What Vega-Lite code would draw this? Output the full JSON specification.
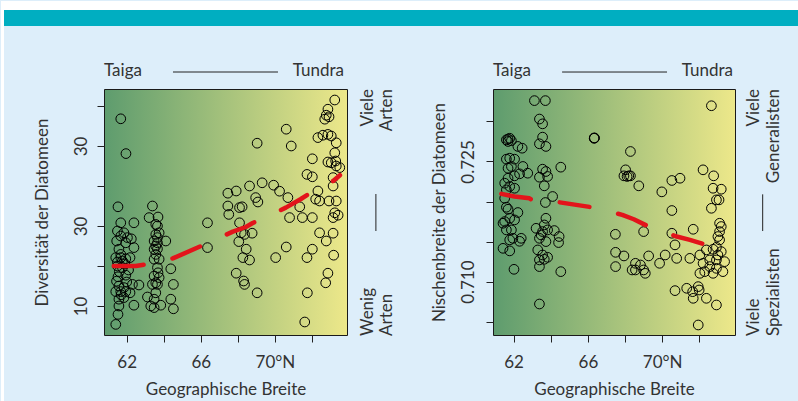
{
  "$schema": "https://vega.github.io/schema/vega-lite/v6.json",
  "padding": 0,
  "autosize": {"type": "pad"},
  "background": "#ddeefa",
  "bounds": "flush",
  "spacing": 146,
  "config": {
    "font": "Lato",
    "view": {"stroke": "#1a1a1a", "strokeWidth": 1, "fill": {"gradient": "linear", "x1": 0, "y1": 0, "x2": 1, "y2": 0, "stops": [{"offset": 0, "color": "#5e9c6e"}, {"offset": 1, "color": "#ede88a"}]}},
    "axis": {"domain": false, "grid": false, "tickColor": "#222", "tickSize": 7, "tickWidth": 1, "labelFont": "Lato", "labelFontSize": 17, "labelColor": "#333", "titleFont": "Lato", "titleFontSize": 17, "titleFontWeight": "normal", "titleColor": "#333", "labelFlush": false, "labelOverlap": false},
    "text": {"font": "Lato", "fontSize": 17, "color": "#333"}
  },
  "datasets": {
    "div": [
      {"lat":61.68,"val":56.8},{"lat":61.96,"val":48.1},{"lat":61.53,"val":34.8},{"lat":61.68,"val":30.8},{"lat":62.39,"val":30.8},{"lat":61.50,"val":28.75},{"lat":61.85,"val":28.3},{"lat":61.46,"val":26.25},{"lat":62.25,"val":26.8},{"lat":61.95,"val":25.8},{"lat":62.39,"val":24.6},{"lat":61.58,"val":24.2},{"lat":61.41,"val":22.1},{"lat":61.68,"val":22.1},{"lat":61.95,"val":21.8},{"lat":62.18,"val":22.1},{"lat":61.68,"val":22.9},{"lat":61.50,"val":20.0},{"lat":61.77,"val":19.6},{"lat":61.53,"val":17.3},{"lat":61.95,"val":17.7},{"lat":62.31,"val":15.4},{"lat":62.66,"val":15.25},{"lat":61.41,"val":13.6},{"lat":61.68,"val":13.6},{"lat":61.95,"val":13.6},{"lat":62.18,"val":13.3},{"lat":61.58,"val":11.7},{"lat":61.85,"val":12.1},{"lat":62.39,"val":10.2},{"lat":61.58,"val":10.0},{"lat":61.53,"val":7.9},{"lat":61.41,"val":5.4},{"lat":61.77,"val":21.25},{"lat":61.58,"val":15.0},{"lat":61.85,"val":14.6},{"lat":61.68,"val":27.5},{"lat":62.04,"val":27.1},{"lat":61.5,"val":21.0},{"lat":61.9,"val":20.5},{"lat":61.6,"val":18.6},{"lat":62.1,"val":19.0},{"lat":61.45,"val":16.2},{"lat":62.0,"val":16.0},{"lat":61.7,"val":12.8},
      {"lat":63.39,"val":35.0},{"lat":63.21,"val":32.1},{"lat":63.69,"val":32.25},{"lat":63.57,"val":30.4},{"lat":63.66,"val":30.0},{"lat":63.57,"val":27.9},{"lat":63.75,"val":28.3},{"lat":63.48,"val":26.25},{"lat":64.11,"val":26.25},{"lat":63.66,"val":25.8},{"lat":63.48,"val":24.2},{"lat":63.66,"val":24.3},{"lat":63.57,"val":22.9},{"lat":63.48,"val":21.7},{"lat":63.75,"val":21.7},{"lat":63.66,"val":19.6},{"lat":64.38,"val":19.3},{"lat":63.48,"val":17.5},{"lat":63.75,"val":17.1},{"lat":63.39,"val":15.4},{"lat":63.66,"val":15.4},{"lat":64.52,"val":15.4},{"lat":63.57,"val":13.3},{"lat":63.12,"val":12.25},{"lat":63.48,"val":11.7},{"lat":64.38,"val":11.7},{"lat":63.30,"val":10.0},{"lat":63.48,"val":9.6},{"lat":63.84,"val":10.2},{"lat":64.52,"val":9.3},{"lat":63.57,"val":25.0},{"lat":63.69,"val":18.3},{"lat":63.57,"val":15.8},{"lat":63.66,"val":27.1},
      {"lat":66.36,"val":30.8},{"lat":66.36,"val":24.6},
      {"lat":73.23,"val":61.5},{"lat":72.86,"val":59.2},{"lat":72.77,"val":57.7},{"lat":72.92,"val":57.3},{"lat":72.69,"val":56.7},{"lat":70.61,"val":54.2},{"lat":69.04,"val":50.7},{"lat":70.88,"val":50.0},{"lat":72.32,"val":52.1},{"lat":72.59,"val":52.7},{"lat":72.86,"val":52.9},{"lat":73.04,"val":52.5},{"lat":73.31,"val":50.8},{"lat":73.23,"val":48.3},{"lat":73.28,"val":46.25},{"lat":72.86,"val":46.0},{"lat":73.04,"val":45.8},{"lat":73.31,"val":45.0},{"lat":73.50,"val":44.6},{"lat":72.02,"val":46.8},{"lat":71.73,"val":42.9},{"lat":72.02,"val":42.3},{"lat":73.14,"val":42.1},
      {"lat":67.46,"val":38.2},{"lat":67.91,"val":38.75},{"lat":68.63,"val":40.0},{"lat":69.31,"val":40.8},{"lat":69.93,"val":40.2},{"lat":70.25,"val":38.7},{"lat":68.96,"val":37.1},{"lat":69.08,"val":36.0},{"lat":67.46,"val":35.0},{"lat":68.09,"val":34.6},{"lat":68.23,"val":34.8},{"lat":67.51,"val":32.9},{"lat":70.70,"val":37.1},{"lat":71.34,"val":34.8},{"lat":70.79,"val":32.1},{"lat":71.48,"val":32.1},{"lat":72.02,"val":32.1},{"lat":72.32,"val":38.75},{"lat":72.20,"val":36.7},{"lat":72.41,"val":36.25},{"lat":72.92,"val":36.25},{"lat":73.31,"val":36.25},{"lat":73.23,"val":33.3},{"lat":73.41,"val":32.7},{"lat":73.14,"val":32.1},{"lat":73.14,"val":40.0},
      {"lat":68.09,"val":30.8},{"lat":68.18,"val":28.3},{"lat":68.36,"val":27.9},{"lat":68.77,"val":28.2},{"lat":68.05,"val":26.1},{"lat":68.45,"val":24.2},{"lat":68.27,"val":22.1},{"lat":68.63,"val":21.5},{"lat":70.61,"val":24.75},{"lat":70.04,"val":22.1},{"lat":72.02,"val":24.2},{"lat":71.73,"val":22.1},{"lat":72.41,"val":28.3},{"lat":72.77,"val":26.25},{"lat":73.14,"val":28.2},{"lat":73.17,"val":22.7},{"lat":67.91,"val":18.2},{"lat":68.31,"val":16.25},{"lat":68.36,"val":15.4},{"lat":69.04,"val":13.3},{"lat":72.86,"val":18.2},{"lat":72.74,"val":15.8},{"lat":71.75,"val":13.3},{"lat":71.61,"val":6.0}
    ],
    "divTrend": [
      {"lat":61.30,"val":20.0},{"lat":62.49,"val":20.0},{"lat":63.03,"val":20.4},{"lat":63.24,"val":20.6},{"lat":64.49,"val":21.9},{"lat":66.32,"val":25.6},{"lat":67.73,"val":28.6},{"lat":68.43,"val":29.75},{"lat":68.8,"val":30.75},{"lat":69.19,"val":31.5},{"lat":70.59,"val":34.6},{"lat":71.4,"val":36.75},{"lat":71.9,"val":38.25},{"lat":73.14,"val":41.25},{"lat":73.51,"val":42.7}
    ],
    "nis": [
      {"lat":63.12,"val":0.7326},{"lat":63.71,"val":0.7326},{"lat":63.39,"val":0.7303},{"lat":63.56,"val":0.7297},
      {"lat":61.70,"val":0.7278},{"lat":61.61,"val":0.7277},{"lat":61.79,"val":0.7279},{"lat":61.88,"val":0.7276},{"lat":61.70,"val":0.7275},
      {"lat":62.46,"val":0.72666},{"lat":62.23,"val":0.72688},{"lat":63.56,"val":0.72804},{"lat":63.39,"val":0.72721},{"lat":63.74,"val":0.72688},
      {"lat":66.34,"val":0.72791},{"lat":66.34,"val":0.72791},{"lat":66.35,"val":0.72795},
      {"lat":61.79,"val":0.72541},{"lat":62.05,"val":0.72529},{"lat":61.61,"val":0.72529},{"lat":61.88,"val":0.72438},{"lat":61.70,"val":0.72416},{"lat":62.50,"val":0.72438},{"lat":62.32,"val":0.72346},{"lat":62.76,"val":0.72354},{"lat":62.05,"val":0.72321},{"lat":61.70,"val":0.72291},{"lat":61.52,"val":0.72229},{"lat":61.79,"val":0.72188},{"lat":61.61,"val":0.72146},{"lat":62.05,"val":0.72166},
      {"lat":64.54,"val":0.72429},{"lat":63.56,"val":0.72404},{"lat":63.74,"val":0.72375},{"lat":63.39,"val":0.72304},{"lat":63.83,"val":0.72313},{"lat":63.65,"val":0.72196},{"lat":64.10,"val":0.72063},{"lat":63.71,"val":0.71988},
      {"lat":61.52,"val":0.72041},{"lat":61.61,"val":0.71929},{"lat":61.70,"val":0.71904},{"lat":62.23,"val":0.71863},{"lat":61.52,"val":0.7175},{"lat":61.79,"val":0.71791},{"lat":62.05,"val":0.71771},{"lat":61.43,"val":0.71729},{"lat":61.61,"val":0.71646},{"lat":61.88,"val":0.71646},{"lat":61.96,"val":0.71541},{"lat":61.79,"val":0.71521},{"lat":62.41,"val":0.71541},{"lat":62.32,"val":0.71504},{"lat":61.43,"val":0.71416},{"lat":61.79,"val":0.71384},
      {"lat":63.74,"val":0.71791},{"lat":63.65,"val":0.71708},{"lat":63.21,"val":0.71666},{"lat":63.56,"val":0.71625},{"lat":63.83,"val":0.71646},{"lat":64.19,"val":0.71638},{"lat":64.45,"val":0.71563},{"lat":64.42,"val":0.71488},{"lat":63.39,"val":0.71541},{"lat":63.30,"val":0.71396},{"lat":63.56,"val":0.71333},{"lat":63.83,"val":0.71304},{"lat":63.39,"val":0.71271},{"lat":63.65,"val":0.71279},{"lat":63.39,"val":0.71188},{"lat":64.54,"val":0.71125},{"lat":62.02,"val":0.71154},{"lat":63.39,"val":0.70721},{"lat":63.48,"val":0.71583},{"lat":63.74,"val":0.715},
      {"lat":67.48,"val":0.71591},{"lat":72.65,"val":0.73196},{"lat":68.29,"val":0.72625},
      {"lat":68.11,"val":0.72313},{"lat":67.94,"val":0.72321},{"lat":68.03,"val":0.72396},{"lat":68.29,"val":0.72321},{"lat":68.2,"val":0.72321},
      {"lat":68.74,"val":0.72196},{"lat":70.52,"val":0.72263},{"lat":70.96,"val":0.72291},{"lat":69.98,"val":0.72121},{"lat":72.20,"val":0.72396},{"lat":72.77,"val":0.72321},{"lat":72.74,"val":0.72166},{"lat":73.18,"val":0.72154},{"lat":72.92,"val":0.72021},{"lat":73.06,"val":0.72021},{"lat":72.65,"val":0.71916},{"lat":70.52,"val":0.71888},{"lat":69.00,"val":0.71625},{"lat":70.52,"val":0.71604},{"lat":71.67,"val":0.71654},{"lat":70.69,"val":0.71459},
      {"lat":73.09,"val":0.71729},{"lat":73.18,"val":0.71688},{"lat":73.09,"val":0.71625},{"lat":73.00,"val":0.71563},{"lat":73.09,"val":0.71521},
      {"lat":67.49,"val":0.71366},{"lat":67.94,"val":0.71321},{"lat":67.49,"val":0.71188},{"lat":69.27,"val":0.71321},{"lat":70.16,"val":0.71333},{"lat":69.86,"val":0.71229},{"lat":70.78,"val":0.71291},{"lat":71.49,"val":0.71291},
      {"lat":68.56,"val":0.71229},{"lat":68.83,"val":0.71208},{"lat":68.56,"val":0.71146},{"lat":69.00,"val":0.71146},{"lat":69.09,"val":0.71104},{"lat":68.38,"val":0.71146},
      {"lat":72.03,"val":0.71333},{"lat":72.38,"val":0.71396},{"lat":72.74,"val":0.71404},{"lat":73.18,"val":0.71375},{"lat":72.56,"val":0.71271},{"lat":72.92,"val":0.71271},{"lat":73.36,"val":0.7125},{"lat":72.20,"val":0.71229},{"lat":72.56,"val":0.71188},{"lat":72.92,"val":0.71166},{"lat":73.27,"val":0.71125},{"lat":72.03,"val":0.71104},{"lat":72.29,"val":0.71125},{"lat":72.74,"val":0.71104},{"lat":72.92,"val":0.71429},{"lat":73.0,"val":0.71333},
      {"lat":70.69,"val":0.70888},{"lat":71.32,"val":0.70917},{"lat":71.64,"val":0.70875},{"lat":71.94,"val":0.70938},{"lat":71.99,"val":0.70896},{"lat":71.67,"val":0.70792},{"lat":72.38,"val":0.70792},{"lat":72.92,"val":0.70709},{"lat":71.94,"val":0.70459}
    ],
    "nisTrend": [
      {"lat":61.34,"val":0.72096},{"lat":62.05,"val":0.72063},{"lat":62.85,"val":0.72041},{"lat":63.03,"val":0.72013},{"lat":64.45,"val":0.71991},{"lat":66.32,"val":0.71925},{"lat":67.85,"val":0.71834},{"lat":68.47,"val":0.71779},{"lat":69.27,"val":0.71688},{"lat":70.78,"val":0.71563},{"lat":71.49,"val":0.71521},{"lat":72.38,"val":0.71459}
    ]
  },
  "hconcat": [
    {
      "width": 243,
      "height": 246,
      "encoding": {
        "x": {"field": "lat", "type": "quantitative", "scale": {"domain": [60.775, 73.89], "nice": false, "zero": false},
              "axis": {"title": "Geographische Breite", "values": [62, 64, 66, 68, 70, 72], "labelExpr": "datum.value == 70 ? '70°N' : (datum.value == 62 || datum.value == 66) ? datum.label : ''", "labelPadding": 12, "minExtent": 36, "maxExtent": 36, "titlePadding": 10}},
        "y": {"field": "val", "type": "quantitative", "scale": {"domain": [2.75, 64.25], "nice": false, "zero": false},
              "axis": {"title": "Diversität der Diatomeen", "values": [10, 20, 30, 40, 50, 60], "labelExpr": "datum.value == 10 ? '10' : (datum.value == 30 || datum.value == 50) ? '30' : ''", "labelAngle": 270, "labelAlign": "center", "labelBaseline": "middle", "labelPadding": 15.5, "minExtent": 31, "maxExtent": 31, "titlePadding": 22}}
      },
      "layer": [
        {"data": {"values": [{"lat": 55.216, "lat2": 98.28, "val": 86.25, "val2": 84}, {"lat": 55.216, "lat2": 55.378, "val": 86.25, "val2": -14}]},
         "mark": {"type": "rect", "color": "#ffffff"},
         "encoding": {"x2": {"field": "lat2"}, "y2": {"field": "val2"}}},
        {"data": {"values": [{"lat": 55.378, "lat2": 98.28, "val": 84, "val2": 80}]},
         "mark": {"type": "rect", "color": "#00aec1"},
         "encoding": {"x2": {"field": "lat2"}, "y2": {"field": "val2"}}},
        {"data": {"values": [{"lat": 64.499, "lat2": 70.165, "val": 68.5, "val2": 68.5}, {"lat": 75.45, "lat2": 75.45, "val": 38.0, "val2": 28.75}]},
         "mark": {"type": "rule", "color": "#222222", "strokeWidth": 1},
         "encoding": {"x2": {"field": "lat2"}, "y2": {"field": "val2"}}},
        {"data": {"values": [{"lat": 60.775, "val": 67.5, "t": "Taiga"}]},
         "mark": {"type": "text", "align": "left", "baseline": "alphabetic"},
         "encoding": {"text": {"field": "t"}}},
        {"data": {"values": [{"lat": 73.727, "val": 67.5, "t": "Tundra"}]},
         "mark": {"type": "text", "align": "right", "baseline": "alphabetic"},
         "encoding": {"text": {"field": "t"}}},
        {"data": {"values": [{"lat": 75.05, "val": 64.25, "t": "Viele"}, {"lat": 76.05, "val": 64.25, "t": "Arten"}]},
         "mark": {"type": "text", "align": "right", "baseline": "middle", "angle": 270},
         "encoding": {"text": {"field": "t"}}},
        {"data": {"values": [{"lat": 75.05, "val": 2.5, "t": "Wenig"}, {"lat": 76.05, "val": 2.5, "t": "Arten"}]},
         "mark": {"type": "text", "align": "left", "baseline": "middle", "angle": 270},
         "encoding": {"text": {"field": "t"}}},
        {"data": {"name": "div"},
         "mark": {"type": "point", "shape": "circle", "filled": false, "size": 94, "color": "#000000", "strokeWidth": 1, "opacity": 1}},
        {"data": {"name": "divTrend"},
         "mark": {"type": "line", "color": "#e3141b", "strokeWidth": 4.5, "strokeDash": [30, 29.5], "strokeCap": "round", "strokeJoin": "round"}}
      ]
    },
    {
      "width": 242,
      "height": 246,
      "encoding": {
        "x": {"field": "lat", "type": "quantitative", "scale": {"domain": [60.89, 73.92], "nice": false, "zero": false},
              "axis": {"title": "Geographische Breite", "values": [62, 64, 66, 68, 70, 72], "labelExpr": "datum.value == 70 ? '70°N' : (datum.value == 62 || datum.value == 66) ? datum.label : ''", "labelPadding": 12, "minExtent": 36, "maxExtent": 36, "titlePadding": 10}},
        "y": {"field": "val", "type": "quantitative", "scale": {"domain": [0.70334, 0.73405], "nice": false, "zero": false},
              "axis": {"title": "Nischenbreite der Diatomeen", "values": [0.705, 0.71, 0.715, 0.72, 0.725, 0.73], "labelExpr": "abs(datum.value - 0.725) < 0.0001 ? '0.725' : (abs(datum.value - 0.71) < 0.0001 ? '0.710' : '')", "labelAngle": 270, "labelAlign": "center", "labelBaseline": "middle", "labelPadding": 17.5, "minExtent": 33, "maxExtent": 33, "titlePadding": 12}}
      },
      "layer": [
        {"data": {"values": [{"lat": 64.61, "lat2": 70.26, "val": 0.73617, "val2": 0.73617}, {"lat": 75.41, "lat2": 75.41, "val": 0.7209, "val2": 0.71632}]},
         "mark": {"type": "rule", "color": "#222222", "strokeWidth": 1},
         "encoding": {"x2": {"field": "lat2"}, "y2": {"field": "val2"}}},
        {"data": {"values": [{"lat": 60.89, "val": 0.73567, "t": "Taiga"}]},
         "mark": {"type": "text", "align": "left", "baseline": "alphabetic"},
         "encoding": {"text": {"field": "t"}}},
        {"data": {"values": [{"lat": 73.81, "val": 0.73567, "t": "Tundra"}]},
         "mark": {"type": "text", "align": "right", "baseline": "alphabetic"},
         "encoding": {"text": {"field": "t"}}},
        {"data": {"values": [{"lat": 74.92, "val": 0.73405, "t": "Viele"}, {"lat": 76.02, "val": 0.73405, "t": "Generalisten"}]},
         "mark": {"type": "text", "align": "right", "baseline": "middle", "angle": 270},
         "encoding": {"text": {"field": "t"}}},
        {"data": {"values": [{"lat": 74.92, "val": 0.70321, "t": "Viele"}, {"lat": 76.02, "val": 0.70321, "t": "Spezialisten"}]},
         "mark": {"type": "text", "align": "left", "baseline": "middle", "angle": 270},
         "encoding": {"text": {"field": "t"}}},
        {"data": {"name": "nis"},
         "mark": {"type": "point", "shape": "circle", "filled": false, "size": 94, "color": "#000000", "strokeWidth": 1, "opacity": 1}},
        {"data": {"name": "nisTrend"},
         "mark": {"type": "line", "color": "#e3141b", "strokeWidth": 4.5, "strokeDash": [30, 29.5], "strokeCap": "round", "strokeJoin": "round"}}
      ]
    }
  ]
}
